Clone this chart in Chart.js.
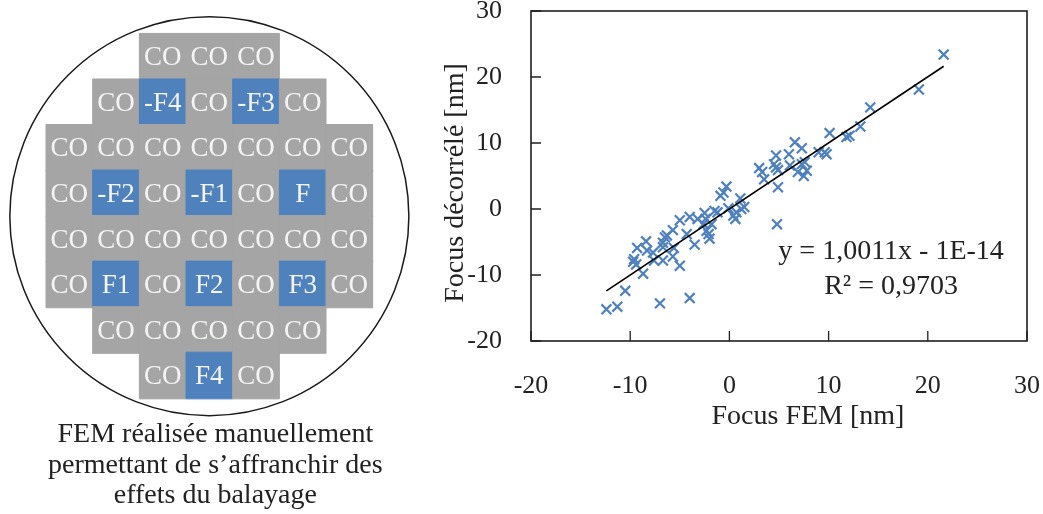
<!DOCTYPE html>
<html><head><meta charset="utf-8">
<script src="https://cdn.jsdelivr.net/npm/chart.js@4.4.1/dist/chart.umd.min.js"></script>
<style>
html,body{margin:0;padding:0;background:#fff;}
#wrap{position:relative;width:1043px;height:514px;overflow:hidden;}
canvas{position:absolute;left:0;top:0;}
</style></head><body>
<div id="wrap"><canvas id="wafer" width="1043" height="514"></canvas><canvas id="scatter" width="1043" height="514"></canvas></div>
<script>
// ---------- data ----------
const waferRows = [
  ['CO','CO','CO'],
  ['CO','-F4','CO','-F3','CO'],
  ['CO','CO','CO','CO','CO','CO','CO'],
  ['CO','-F2','CO','-F1','CO','F','CO'],
  ['CO','CO','CO','CO','CO','CO','CO'],
  ['CO','F1','CO','F2','CO','F3','CO'],
  ['CO','CO','CO','CO','CO'],
  ['CO','F4','CO']
];
const captionLines = ['FEM réalisée manuellement', 'permettant de s’affranchir des', 'effets du balayage'];
const WAFER_RADIUS = 4.275; // in cell widths

const focusFEM = [-12.4,-11.3,-10.5,-7.0,-4.0,-8.7,-9.6,-9.7,-9.4,-9.3,-8.4,-8.3,-7.7,-7.6,-6.7,-6.7,-6.7,-6.5,-6.3,-5.7,-5.6,-5.7,-5.0,-5.0,-4.3,-4.0,-3.5,-3.2,-2.5,-2.3,-2.1,-2.0,-2.4,-2.6,-1.8,-1.5,-1.2,-0.9,-0.6,-0.3,-0.1,0.4,0.6,0.7,1.1,1.2,1.5,3.0,3.3,3.5,4.5,4.7,4.7,4.9,4.9,4.8,6.0,6.1,6.6,7.3,6.9,7.3,7.6,7.5,7.8,9.0,9.6,9.8,10.1,11.8,12.1,13.2,14.2,19.1,21.6];
const focusDecor = [-15.2,-14.8,-12.4,-14.3,-13.5,-9.8,-7.6,-8.0,-8.4,-5.9,-4.9,-6.3,-6.6,-7.8,-7.8,-5.8,-5.1,-4.3,-4.0,-3.2,-5.9,-7.2,-8.6,-1.7,-3.8,-1.2,-5.4,-1.5,-0.6,-3.3,-3.8,-4.5,-1.5,-2.3,-2.3,-0.3,-0.5,2.0,2.5,3.4,0.1,-1.0,-1.5,-0.5,1.6,0.0,0.3,6.2,5.6,4.5,6.8,8.1,6.3,5.9,3.3,-2.3,8.3,6.6,10.1,9.2,5.6,6.8,7.1,5.0,5.8,8.6,8.6,8.3,11.5,10.9,11.1,12.5,15.4,18.1,23.4];
const xTicks = [-20,-10,0,10,20,30];
const yTicks = [-20,-10,0,10,20,30];
const TREND_SLOPE = 1.0011;
const TREND_INTERCEPT = -1e-14;
const equationText = 'y = 1,0011x - 1E-14';
const r2Text = 'R² = 0,9703';
const xTitle = 'Focus FEM [nm]';
const yTitle = 'Focus décorrélé [nm]';

// ---------- styles ----------
const FONT = '"Liberation Serif", "Times New Roman", serif';
const TEXT = '#222222';
const GRAY = '#A5A5A5';
const BLUE = '#4F81BD';

// ---------- wafer chart ----------
const cellPts = [], cellText = [], cellColor = [];
waferRows.forEach((row, r) => {
  const n = row.length;
  row.forEach((lab, c) => {
    cellPts.push({x: c - (n - 1) / 2, y: (waferRows.length - 1) / 2 - r});
    cellText.push(lab);
    cellColor.push(lab === 'CO' ? GRAY : BLUE);
  });
});

const waferPlugin = {
  id: 'waferDecor',
  beforeDatasetsDraw(chart) {
    const {ctx, scales: {x, y}} = chart;
    const cx = x.getPixelForValue(0), cy = y.getPixelForValue(0);
    const r = x.getPixelForValue(WAFER_RADIUS) - cx;
    ctx.save();
    ctx.beginPath();
    ctx.arc(cx, cy, r, 0, Math.PI * 2);
    ctx.lineWidth = 1.5;
    ctx.strokeStyle = '#1a1a1a';
    ctx.stroke();
    ctx.restore();
  },
  afterDatasetsDraw(chart) {
    const {ctx, scales: {x, y}} = chart;
    ctx.save();
    ctx.font = '27px ' + FONT;
    ctx.fillStyle = '#F4F4F4';
    ctx.textAlign = 'center';
    ctx.textBaseline = 'middle';
    cellPts.forEach((p, i) => {
      ctx.fillText(cellText[i], x.getPixelForValue(p.x), y.getPixelForValue(p.y) + 1.5);
    });
    ctx.font = '28px ' + FONT;
    ctx.fillStyle = TEXT;
    ctx.textBaseline = 'alphabetic';
    const mid = x.getPixelForValue(0) + 6;
    captionLines.forEach((t, i) => ctx.fillText(t, mid, 442 + i * 30.5));
    ctx.restore();
  }
};

new Chart(document.getElementById('wafer'), {
  type: 'scatter',
  data: {datasets: [{
    data: cellPts,
    pointStyle: 'rect',
    pointRadius: 33.0,
    pointHoverRadius: 33.0,
    pointBackgroundColor: cellColor,
    pointBorderColor: cellColor,
    pointBorderWidth: 1,
    clip: false
  }]},
  options: {
    responsive: false, animation: false, devicePixelRatio: 1,
    layout: {padding: {left: 46, right: 1043 - 372.7, top: 22, bottom: 514 - 398.3}},
    scales: {
      x: {type: 'linear', display: false, min: -3.5, max: 3.5},
      y: {type: 'linear', display: false, min: -4, max: 4}
    },
    plugins: {legend: {display: false}, tooltip: {enabled: false}}
  },
  plugins: [waferPlugin]
});

// ---------- scatter chart ----------
const pts = focusFEM.map((v, i) => ({x: v, y: focusDecor[i]}));
const xMin = Math.min(...focusFEM), xMax = Math.max(...focusFEM);
const trend = [xMin, xMax].map(v => ({x: v, y: TREND_SLOPE * v + TREND_INTERCEPT}));

const framePlugin = {
  id: 'frameDecor',
  afterDraw(chart) {
    const {ctx, chartArea: a, scales: {x, y}} = chart;
    ctx.save();
    ctx.strokeStyle = '#1f1f1f';
    ctx.lineWidth = 1.6;
    ctx.strokeRect(a.left, a.top, a.right - a.left, a.bottom - a.top);
    ctx.lineWidth = 1.3;
    ctx.beginPath();
    x.ticks.forEach(t => {
      const px = x.getPixelForValue(t.value);
      ctx.moveTo(px, a.bottom); ctx.lineTo(px, a.bottom - 10);
    });
    y.ticks.forEach(t => {
      const py = y.getPixelForValue(t.value);
      ctx.moveTo(a.left, py); ctx.lineTo(a.left + 10, py);
    });
    ctx.stroke();
    ctx.fillStyle = TEXT;
    ctx.font = '28px ' + FONT;
    ctx.textAlign = 'center';
    ctx.textBaseline = 'middle';
    ctx.fillText(xTitle, a.left + 277, a.bottom + 76);
    ctx.save();
    ctx.translate(a.left - 75, a.top + 172);
    ctx.rotate(-Math.PI / 2);
    ctx.fillText(yTitle, 0, 0);
    ctx.restore();
    ctx.fillText(equationText, x.getPixelForValue(16.3), y.getPixelForValue(-6.45));
    ctx.fillText(r2Text, x.getPixelForValue(16.3), y.getPixelForValue(-11.7));
    ctx.restore();
  }
};

new Chart(document.getElementById('scatter'), {
  type: 'scatter',
  data: {datasets: [
    {data: trend, showLine: true, borderColor: '#000', borderWidth: 1.6, pointRadius: 0, order: 0, clip: false},
    {data: pts, pointStyle: 'crossRot', pointRadius: 7, pointHoverRadius: 7,
     pointBorderColor: BLUE, pointBackgroundColor: BLUE, pointBorderWidth: 2.2, order: 1, clip: false}
  ]},
  options: {
    responsive: false, animation: false, devicePixelRatio: 1,
    layout: {padding: {left: 400, right: 16, top: 11, bottom: 0}},
    scales: {
      x: {
        type: 'linear', min: -20, max: 30,
        afterBuildTicks(s) { s.ticks = xTicks.map(v => ({value: v})); },
        ticks: {font: {family: FONT, size: 26}, color: TEXT, padding: 30, maxRotation: 0, autoSkip: false, callback: v => String(v)},
        grid: {display: false, drawTicks: false},
        border: {display: false},
        afterFit(s) { s.height = 173; s.paddingLeft = 0; s.paddingRight = 0; }
      },
      y: {
        type: 'linear', min: -20, max: 30,
        afterBuildTicks(s) { s.ticks = yTicks.map(v => ({value: v})); },
        ticks: {font: {family: FONT, size: 26}, color: TEXT, padding: 29, autoSkip: false, callback: v => String(v)},
        grid: {display: false, drawTicks: false},
        border: {display: false},
        afterFit(s) { s.width = 131; s.paddingTop = 0; s.paddingBottom = 0; }
      }
    },
    plugins: {legend: {display: false}, tooltip: {enabled: false}}
  },
  plugins: [framePlugin]
});
</script>
</body></html>
